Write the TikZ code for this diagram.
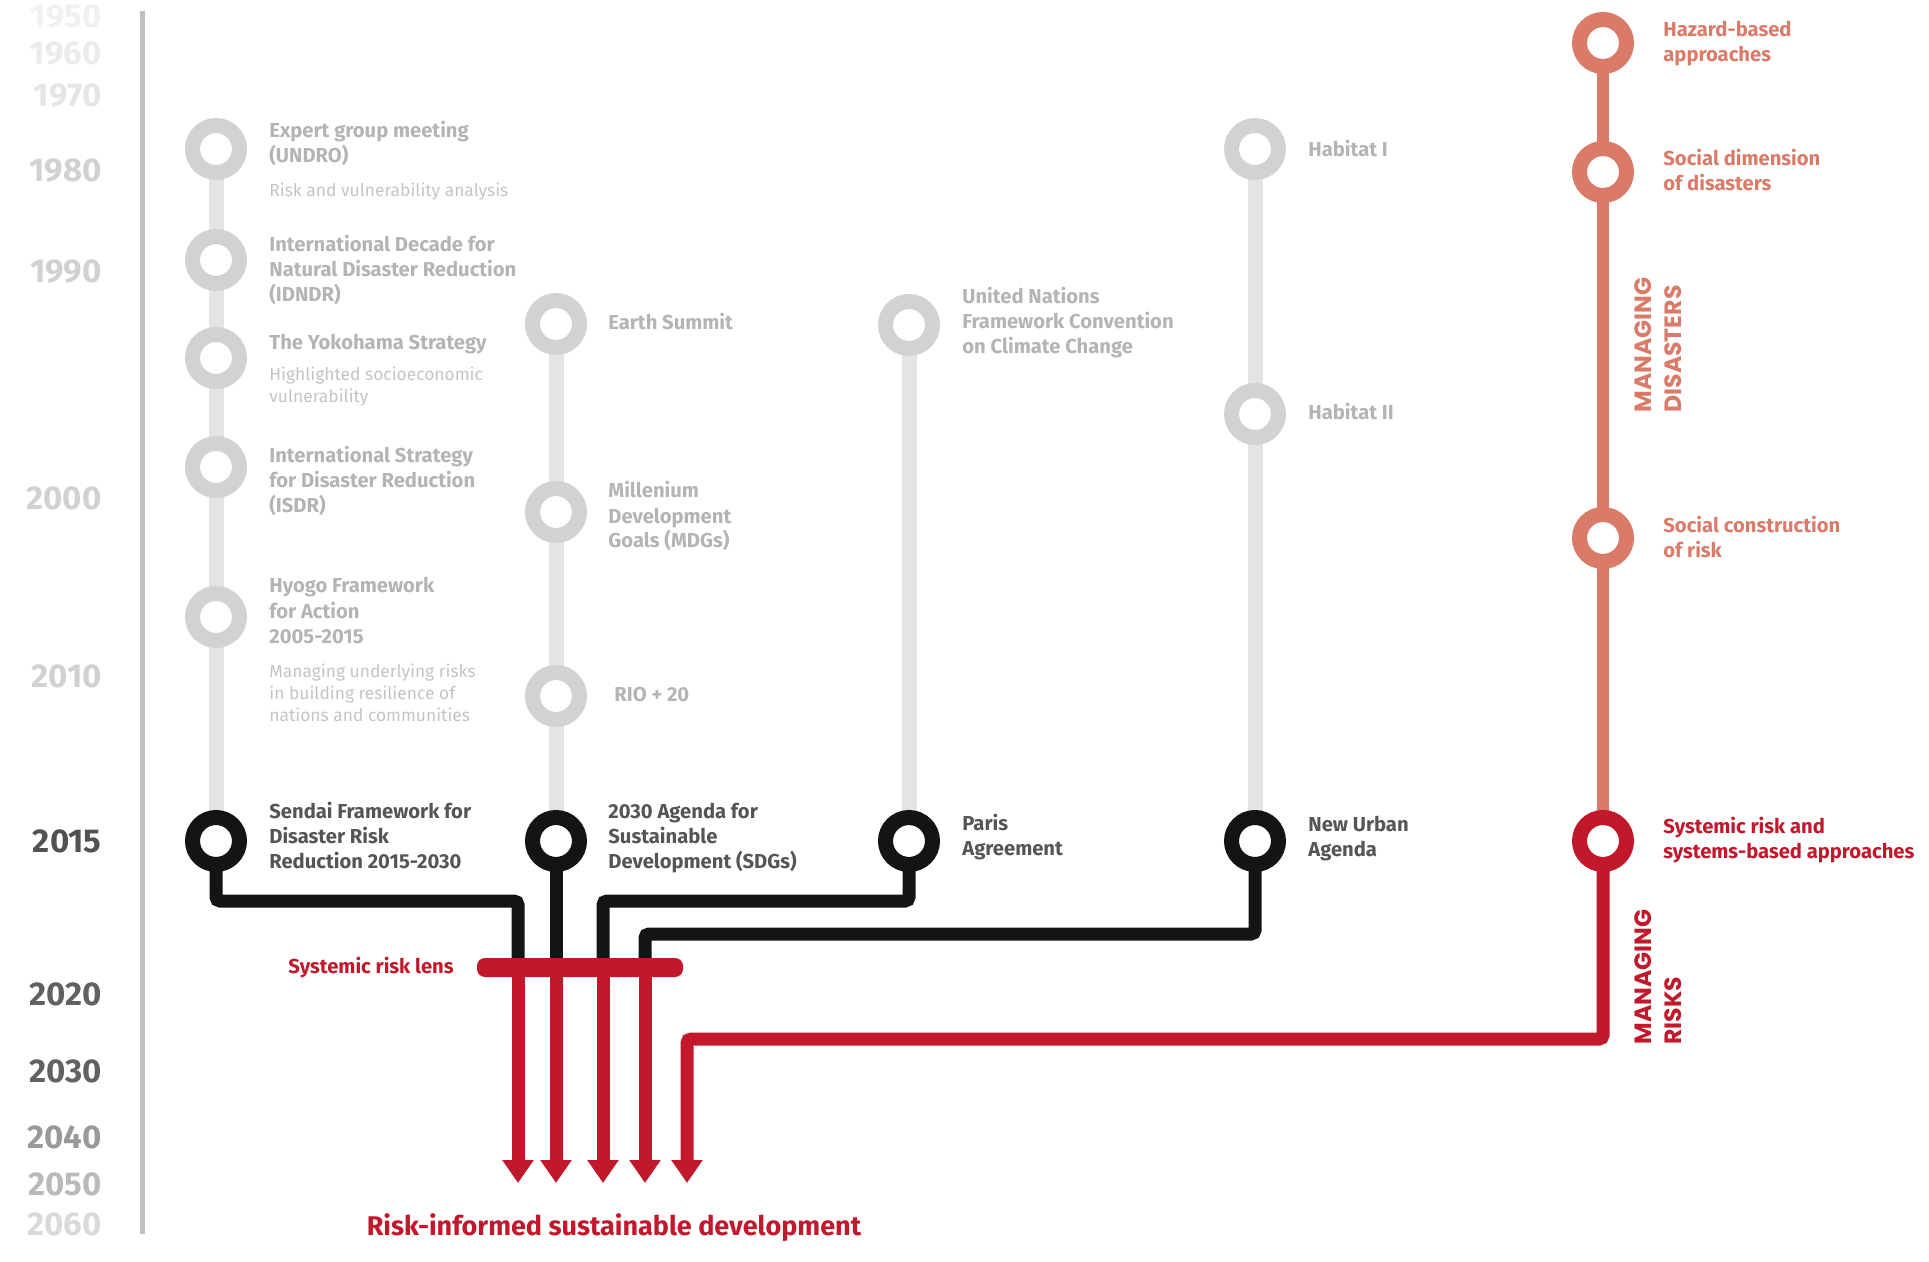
\documentclass[tikz,border=0pt]{standalone}
\usepackage{fontspec}
\setmainfont{Fira Sans}
\newfontfamily\capsfont{Poppins}
\usetikzlibrary{arrows.meta}
\pgfdeclarelayer{bg}\pgfsetlayers{bg,main}
\definecolor{ringgray}{HTML}{D2D2D2}
\definecolor{linegray}{HTML}{E4E4E4}
\definecolor{labgray}{HTML}{B4B4B4}
\definecolor{descgray}{HTML}{C4C4C4}
\definecolor{darklab}{HTML}{555555}
\definecolor{ringblack}{HTML}{141414}
\definecolor{salmon}{HTML}{DA7B69}
\definecolor{riskred}{HTML}{C1182B}
\definecolor{axisgray}{HTML}{C3BFC1}
\tikzset{
  ring/.style={circle, inner sep=0pt, minimum size=23.5pt, line width=7.5pt, fill=white},
  gring/.style={ring, draw=ringgray},
  bring/.style={ring, draw=ringblack},
  sring/.style={ring, draw=salmon},
  rring/.style={ring, draw=riskred},
  lab/.style={anchor=base west, align=left, inner sep=0pt, font=\fontsize{10.1}{12.5}\selectfont\bfseries},
  glab/.style={lab, text=labgray},
  dlab/.style={lab, text=darklab},
  slab/.style={lab, text=salmon},
  rlab/.style={lab, text=riskred},
  desc/.style={anchor=base west, align=left, inner sep=0pt, text=descgray, font=\fontsize{8.7}{11}\selectfont},
  yr/.style={anchor=base east, inner sep=0pt, font=\fontsize{16.5}{16.5}\selectfont\bfseries},
  grayline/.style={draw=linegray, line width=7.5pt},
  salmonline/.style={draw=salmon, line width=6pt},
  blackline/.style={draw=ringblack, line width=6.5pt, rounded corners=2pt},
  redarrow/.style={draw=riskred, line width=6.5pt, rounded corners=2pt, -{Triangle[width=15pt,length=11.5pt]}},
  vert/.style={rotate=90, anchor=north west, align=left, inner sep=0pt, font=\capsfont\bfseries\fontsize{11.8}{15}\selectfont},
}
\begin{document}
\begin{tikzpicture}[x=0.5pt, y=-0.5pt]
\useasboundingbox (0,0) rectangle (1929,1262);
% axis
\coordinate (axtop) at (142,11);
\coordinate (axbot) at (142,1234);
\draw[axisgray, line width=2.5pt] (axtop) -- (axbot);
% years
\node[yr, text=black!6] (y1950) at (102,28) {1950};
\node[yr, text=black!8] (y1960) at (102,65) {1960};
\node[yr, text=black!10] (y1970) at (102,107) {1970};
\node[yr, text=black!18] (y1980) at (102,182) {1980};
\node[yr, text=black!18] (y1990) at (102,283) {1990};
\node[yr, text=black!18] (y2000) at (102,510) {2000};
\node[yr, text=black!18] (y2010) at (102,687) {2010};
\node[yr, text=black!68] (y2015) at (102,852) {2015};
\node[yr, text=black!62] (y2020) at (102,1005) {2020};
\node[yr, text=black!62] (y2030) at (102,1082) {2030};
\node[yr, text=black!40] (y2040) at (102,1148) {2040};
\node[yr, text=black!27] (y2050) at (102,1195) {2050};
\node[yr, text=black!15] (y2060) at (102,1235) {2060};
% circles
\node[gring] (expert) at (216,149) {};
\node[gring] (idndr) at (216,260) {};
\node[gring] (yokohama) at (216,358) {};
\node[gring] (isdr) at (216,467) {};
\node[gring] (hyogo) at (216,617) {};
\node[bring] (sendai) at (216,841) {};
\node[gring] (earth) at (556,324) {};
\node[gring] (mdg) at (556,512) {};
\node[gring] (rio) at (556,696) {};
\node[bring] (agenda) at (556,841) {};
\node[gring] (unfccc) at (909,325) {};
\node[bring] (paris) at (909,841) {};
\node[gring] (hab1) at (1255,149) {};
\node[gring] (hab2) at (1255,414) {};
\node[bring] (nua) at (1255,841) {};
\node[sring] (hazard) at (1603,43) {};
\node[sring] (socdim) at (1603,172) {};
\node[sring] (soccon) at (1603,538) {};
\node[rring] (sysrisk) at (1603,841) {};
% lens bar
\node[fill=riskred, rounded corners=4pt, minimum width=103pt, minimum height=9.5pt, inner sep=0pt] (lens) at (580,967.5) {};
% labels column 1 (anchor = baseline of last line)
\node[glab] (lexpert) at (269,163) {Expert group meeting\\(UNDRO)};
\node[desc] (dexpert) at (269,197) {Risk and vulnerability analysis};
\node[glab] (lidndr) at (269,302) {International Decade for\\Natural Disaster Reduction\\(IDNDR)};
\node[glab] (lyoko) at (269,350) {The Yokohama Strategy};
\node[desc] (dyoko) at (269,403) {Highlighted socioeconomic\\vulnerability};
\node[glab] (lisdr) at (269,513) {International Strategy\\for Disaster Reduction\\(ISDR)};
\node[glab] (lhyogo) at (269,643) {Hyogo Framework\\for Action\\2005-2015};
\node[desc] (dhyogo) at (269,721) {Managing underlying risks\\in building resilience of\\nations and communities};
\node[dlab] (lsendai) at (269,868) {Sendai Framework for\\Disaster Risk\\Reduction 2015-2030};
% column 2
\node[glab] (learth) at (608,330) {Earth Summit};
\node[glab] (lmdg) at (608,548) {Millenium\\Development\\Goals (MDGs)};
\node[glab] (lrio) at (614,701) {RIO + 20};
\node[dlab] (lagenda) at (608,868) {2030 Agenda for\\Sustainable\\Development (SDGs)};
% column 3
\node[glab] (lunfccc) at (962,354) {United Nations\\Framework Convention\\on Climate Change};
\node[dlab] (lparis) at (962,855) {Paris\\Agreement};
% column 4
\node[glab] (lhab1) at (1308,157) {Habitat I};
\node[glab] (lhab2) at (1308,420) {Habitat II};
\node[dlab] (lnua) at (1308,856) {New Urban\\Agenda};
% column 5
\node[slab] (lhazard) at (1663,62) {Hazard-based\\approaches};
\node[slab] (lsocdim) at (1663,191) {Social dimension\\of disasters};
\node[slab] (lsoccon) at (1663,558) {Social construction\\of risk};
\node[rlab] (lsysrisk) at (1663,858) {Systemic risk and\\systems-based approaches};
% vertical titles
\node[vert, text=salmon] (mdis) at (1634,413) {MANAGING\\DISASTERS};
\node[vert, text=riskred] (mrisk) at (1634,1045) {MANAGING\\RISKS};
% lens label and result
\node[lab, anchor=base east, text=riskred] (lenslab) at (454,973) {Systemic risk lens};
\node[anchor=base, inner sep=0pt, text=riskred, font=\fontsize{13.5}{15}\selectfont\bfseries] (result) at (614,1235) {Risk-informed sustainable development};
% connectors
\coordinate (k1) at (518,901);
\coordinate (k3) at (603,901);
\coordinate (k4) at (645,934);
\coordinate (k5) at (687,1039);
\coordinate (t1) at (518,1183);
\coordinate (t2) at (556,1183);
\coordinate (t3) at (603,1183);
\coordinate (t4) at (645,1183);
\coordinate (t5) at (687,1183);
\begin{pgfonlayer}{bg}
\draw[grayline] (expert.center) -- (idndr.center) -- (yokohama.center) -- (isdr.center) -- (hyogo.center) -- (sendai.center);
\draw[grayline] (earth.center) -- (mdg.center) -- (rio.center) -- (agenda.center);
\draw[grayline] (unfccc.center) -- (paris.center);
\draw[grayline] (hab1.center) -- (hab2.center) -- (nua.center);
\draw[salmonline] (hazard.center) -- (socdim.center) -- (soccon.center) -- (sysrisk.center);
\draw[blackline] (sendai.center) |- (k1) -- (k1 |- lens.center);
\draw[blackline] (agenda.center) -- (agenda |- lens.center);
\draw[blackline] (paris.center) |- (k3) -- (k3 |- lens.center);
\draw[blackline] (nua.center) |- (k4) -- (k4 |- lens.center);
\draw[redarrow] (t1 |- lens.center) -- (t1);
\draw[redarrow] (t2 |- lens.center) -- (t2);
\draw[redarrow] (t3 |- lens.center) -- (t3);
\draw[redarrow] (t4 |- lens.center) -- (t4);
\draw[redarrow] (sysrisk.center) |- (k5) -- (t5);
\end{pgfonlayer}
\end{tikzpicture}
\end{document}
